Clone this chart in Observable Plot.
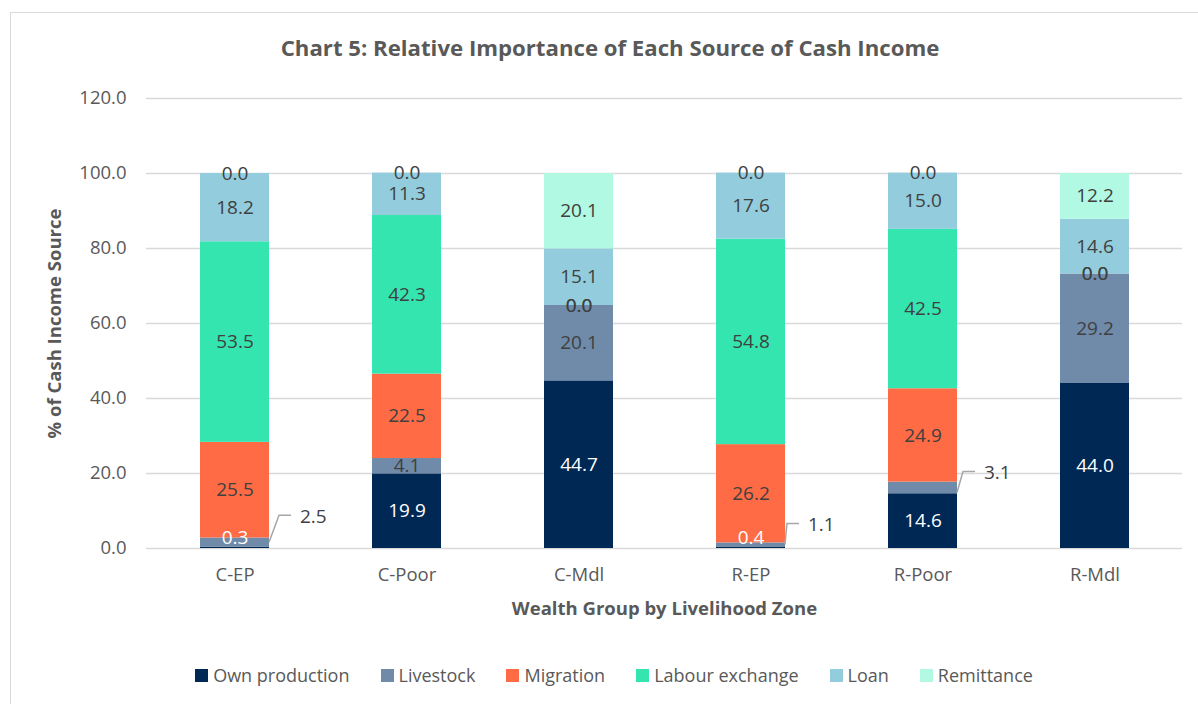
<!DOCTYPE html>
<html>
<head>
<meta charset="utf-8">
<script src="https://cdn.jsdelivr.net/npm/d3@7"></script>
<script src="https://cdn.jsdelivr.net/npm/@observablehq/plot@0.6"></script>
<style>
  html, body { margin: 0; padding: 0; background: #fff; }
  body { width: 1198px; height: 704px; position: relative; overflow: hidden; font-family: "Open Sans", sans-serif; }
  #frame { position: absolute; left: 10px; top: 12px; width: 1210px; height: 720px; border: 1px solid #d9d9d9; box-sizing: border-box; }
  #title { position: absolute; left: 0; top: 31px; width: 1220px; text-align: center; font-weight: bold; font-size: 22.2px; line-height: 34px; color: #595959; }
  #chart { position: absolute; left: 0; top: 75px; }
  #legend { position: absolute; left: 0; top: 662px; width: 1228px; display: flex; justify-content: center; align-items: center; font-size: 18px; color: #595959; line-height: 26px; }
  #legend .item { display: flex; align-items: center; margin: 0 15.5px; }
  #legend .sw { width: 13px; height: 13px; margin-right: 5px; }
  #chart g[aria-label="x-axis label"] text, #chart g[aria-label="y-axis label"] text { font-weight: bold; }
</style>
</head>
<body>
<div id="frame"></div>
<div id="title">Chart 5: Relative Importance of Each Source of Cash Income</div>
<div id="chart"></div>
<div id="legend"></div>
<script>
const groups = ["C-EP", "C-Poor", "C-Mdl", "R-EP", "R-Poor", "R-Mdl"];
const sources = ["Own production", "Livestock", "Migration", "Labour exchange", "Loan", "Remittance"];
const ownProduction  = [0.3, 19.9, 44.7, 0.4, 14.6, 44.0];
const livestock      = [2.5, 4.1, 20.1, 1.1, 3.1, 29.2];
const migration      = [25.5, 22.5, 0.0, 26.2, 24.9, 0.0];
const labourExchange = [53.5, 42.3, 0.0, 54.8, 42.5, 0.0];
const loan           = [18.2, 11.3, 15.1, 17.6, 15.0, 14.6];
const remittance     = [0.0, 0.0, 20.1, 0.0, 0.0, 12.2];
const colors = ["#002855", "#6f8ba9", "#ff6b45", "#35e5b0", "#93cddd", "#b1f9e2"];
const yTicks = [0, 20, 40, 60, 80, 100, 120];
const calloutGroups = ["C-EP", "R-EP", "R-Poor"];

const seriesValues = [ownProduction, livestock, migration, labourExchange, loan, remittance];
const table = [];
groups.forEach((g, i) => sources.forEach((s, j) => table.push({group: g, source: s, value: seriesValues[j][i]})));

// callout layout (pixel offsets of leader elbow and label relative to bar edge / segment middle)
const calloutLayout = {"C-EP": {elbow: 10, dy: -27, start: 0}, "R-EP": {elbow: 2, dy: -21, start: 0}, "R-Poor": {elbow: 6, dy: -16, start: 5}};

const OWN = sources[0], LIVE = sources[1];
const isCallout = d => d.source === LIVE && calloutGroups.includes(d.group);
const lbl = d => d.value.toFixed(1);
const stackOpts = extra => Plot.stackY({x: "group", y: "value", z: "source", text: lbl, fontSize: 19, ...extra});

function leaders(index, scales) {
  const sx = scales.x, sy = scales.y;
  const bw = typeof sx.bandwidth === "function" ? sx.bandwidth() : sx.bandwidth;
  const g = document.createElementNS("http://www.w3.org/2000/svg", "g");
  calloutGroups.forEach(grp => {
    const i = groups.indexOf(grp);
    const mid = ownProduction[i] + livestock[i] / 2;
    const L = calloutLayout[grp];
    const x0 = sx(grp) + bw;
    const y0 = sy(mid) + L.start;
    const y1 = sy(mid) + L.dy;
    const p = document.createElementNS("http://www.w3.org/2000/svg", "path");
    p.setAttribute("d", `M${x0},${y0}L${x0 + L.elbow},${y1}L${x0 + L.elbow + 12},${y1}`);
    p.setAttribute("fill", "none");
    p.setAttribute("stroke", "#a6a6a6");
    p.setAttribute("stroke-width", 1.5);
    g.appendChild(p);
  });
  return g;
}

const calloutMarks = calloutGroups.map(grp => {
  const L = calloutLayout[grp];
  return Plot.text(table, Plot.filter(d => d.source === LIVE && d.group === grp,
    stackOpts({fill: "#404040", textAnchor: "start", dx: 35 + L.elbow + 20, dy: L.dy + 1})));
});

const chart = Plot.plot({
  width: 1198,
  height: 565,
  marginLeft: 146,
  marginRight: 16,
  marginTop: 23,
  marginBottom: 92,
  style: {fontFamily: "Open Sans, sans-serif", fontSize: "18.5px", color: "#595959", background: "transparent"},
  x: {domain: groups, paddingInner: 0.6, paddingOuter: 0.3, label: "Wealth Group by Livelihood Zone", labelAnchor: "center", labelArrow: false, labelOffset: 66, tickSize: 0, tickPadding: 19},
  y: {domain: [0, 120], ticks: yTicks, tickFormat: ".1f", tickSize: 0, tickPadding: 20, label: "% of Cash Income Source", labelAnchor: "center", labelArrow: false, labelOffset: 99},
  color: {domain: sources, range: colors},
  marks: [
    Plot.ruleY(yTicks, {stroke: "#d9d9d9", strokeWidth: 1.5}),
    Plot.barY(table, {x: "group", y: "value", z: "source", fill: "source"}),
    Plot.text(table, Plot.filter(d => d.source === OWN && d.value >= 1, stackOpts({fill: "white"}))),
    Plot.text(table, Plot.filter(d => d.source === OWN && d.value < 1, stackOpts({fill: "white", dy: -10}))),
    Plot.text(table, Plot.filter(d => d.source !== OWN && !isCallout(d), stackOpts({fill: "#404040"}))),
    ...calloutMarks,
    leaders
  ]
});
document.getElementById("chart").appendChild(chart);

const legend = document.getElementById("legend");
sources.forEach((s, j) => {
  const item = document.createElement("div");
  item.className = "item";
  const sw = document.createElement("div");
  sw.className = "sw";
  sw.style.background = colors[j];
  const t = document.createElement("span");
  t.textContent = s;
  item.appendChild(sw);
  item.appendChild(t);
  legend.appendChild(item);
});
</script>
</body>
</html>
